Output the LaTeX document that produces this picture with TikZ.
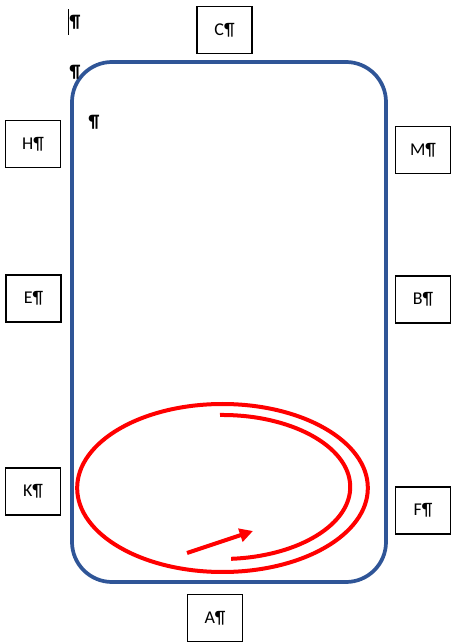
\documentclass[tikz,border=0pt]{standalone}
\usepackage{fontspec}
\setmainfont{Carlito}
\usetikzlibrary{arrows.meta}
\definecolor{trackBlue}{HTML}{2F5597}
\definecolor{loopRed}{HTML}{FF0000}

\begin{document}
\begin{tikzpicture}[
    x=0.75pt, y=0.75pt,
    letterbox/.style={rectangle, draw=black, line width=1.1pt, fill=white, minimum width=41pt, minimum height=35pt, inner sep=0pt, font=\fontsize{13.5}{15}\selectfont},
    mark text/.style={inner sep=0pt, font=\fontsize{13.5}{15}\selectfont\bfseries},
    track/.style={draw=trackBlue, line width=2.8pt, rounded corners=30pt},
    loop line/.style={draw=loopRed, line width=3pt},
    loop arrow/.style={loopRed, line width=3pt, -{Triangle[length=10pt,width=10pt]}}
]
\useasboundingbox (0,0) rectangle (452,644);

% arena
\draw[track] (72,62) rectangle (386,582);

% letters round the arena
\node[letterbox] (c) at (224.5,614) {C¶};
\node[letterbox] (h) at (33,500) {H¶};
\node[letterbox] (m) at (423,494) {M¶};
\node[letterbox] (e) at (33.5,345.5) {E¶};
\node[letterbox] (b) at (423,344.5) {B¶};
\node[letterbox] (k) at (33,152.5) {K¶};
\node[letterbox] (f) at (423,133.5) {F¶};
\node[letterbox] (a) at (215,26) {A¶};

% paragraph marks
\node[mark text] (p1) at (75,622) {¶};
\node[mark text] (p2) at (75,572) {¶};
\node[mark text] (p3) at (94,522) {¶};
\draw[line width=0.6pt] ([xshift=-1pt,yshift=4pt]p1.north west) -- ([xshift=-1pt,yshift=-4pt]p1.south west);

% circle work
\draw[loop line] (222.5,156) ellipse [x radius=109pt, y radius=63pt];
\draw[loop line] (220,229) arc [start angle=91, end angle=-86, x radius=96pt, y radius=54pt];
\coordinate (go start) at (187,91);
\coordinate (go end) at (253,113);
\draw[loop arrow] (go start) -- (go end);

\end{tikzpicture}
\end{document}
